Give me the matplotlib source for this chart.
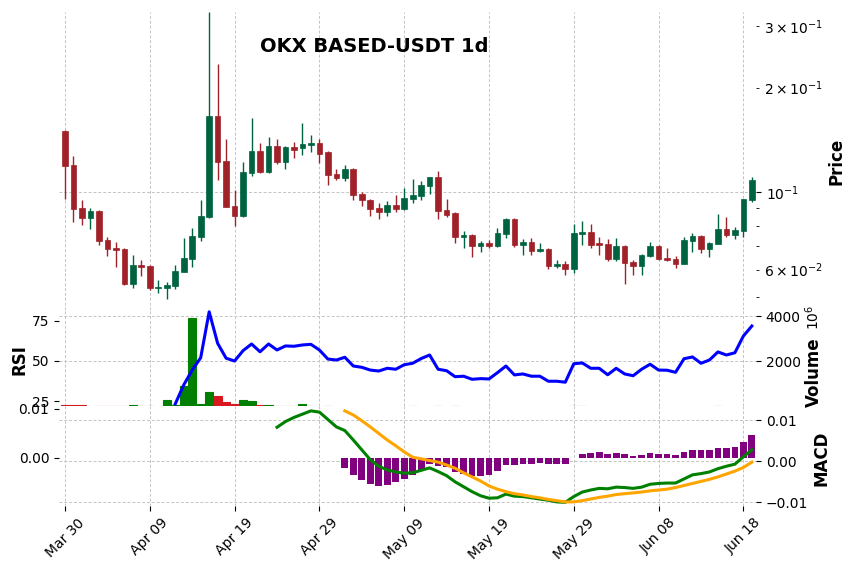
import matplotlib
matplotlib.use('Agg')
import matplotlib.pyplot as plt
import numpy as np
import pandas as pd

# daily candles
dates = pd.date_range('2024-03-30', periods=82, freq='D')

opens = [0.1505, 0.1195, 0.0900, 0.0844, 0.0882, 0.0729, 0.0691, 0.0687, 0.0546, 0.0618,
         0.0614, 0.0532, 0.0532, 0.0539, 0.0591, 0.0644, 0.0745, 0.0850, 0.1662, 0.1227,
         0.0912, 0.0855, 0.1136, 0.1311, 0.1141, 0.1355, 0.1219, 0.1346, 0.1339, 0.1364,
         0.1391, 0.1302, 0.1126, 0.1097, 0.1164, 0.0987, 0.0949, 0.0900, 0.0878, 0.0918,
         0.0894, 0.0955, 0.0976, 0.1042, 0.1104, 0.0888, 0.0871, 0.0745, 0.0753, 0.0702,
         0.0714, 0.0702, 0.0760, 0.0839, 0.0706, 0.0719, 0.0679, 0.0687, 0.0615, 0.0623,
         0.0603, 0.0760, 0.0768, 0.0714, 0.0710, 0.0644, 0.0700, 0.0630, 0.0615, 0.0657,
         0.0700, 0.0647, 0.0643, 0.0622, 0.0725, 0.0748, 0.0688, 0.0711, 0.0783, 0.0753,
         0.0775, 0.0950]
highs = [0.1510, 0.1276, 0.0949, 0.0904, 0.0888, 0.0745, 0.0722, 0.0690, 0.0659, 0.0641,
         0.0619, 0.0558, 0.0551, 0.0617, 0.0737, 0.0792, 0.0953, 0.3300, 0.2338, 0.1425,
         0.1013, 0.1219, 0.1637, 0.1388, 0.1447, 0.1425, 0.1361, 0.1397, 0.1584, 0.1463,
         0.1421, 0.1317, 0.1169, 0.1201, 0.1174, 0.1002, 0.0955, 0.0932, 0.0942, 0.0985,
         0.1032, 0.1095, 0.1075, 0.1109, 0.1154, 0.0955, 0.0876, 0.0775, 0.0757, 0.0725,
         0.0730, 0.0792, 0.0846, 0.0844, 0.0732, 0.0738, 0.0713, 0.0690, 0.0638, 0.0634,
         0.0811, 0.0830, 0.0813, 0.0743, 0.0732, 0.0737, 0.0704, 0.0641, 0.0666, 0.0722,
         0.0704, 0.0691, 0.0657, 0.0743, 0.0762, 0.0752, 0.0722, 0.0869, 0.0852, 0.0797,
         0.0957, 0.1104]
lows = [0.0955, 0.0820, 0.0808, 0.0787, 0.0704, 0.0655, 0.0610, 0.0540, 0.0530, 0.0573,
        0.0525, 0.0512, 0.0493, 0.0526, 0.0591, 0.0609, 0.0727, 0.0844, 0.1087, 0.0906,
        0.0800, 0.0850, 0.1117, 0.1136, 0.1136, 0.1205, 0.1166, 0.1257, 0.1282, 0.1305,
        0.1211, 0.1052, 0.1085, 0.1077, 0.0950, 0.0916, 0.0855, 0.0839, 0.0855, 0.0878,
        0.0892, 0.0934, 0.0950, 0.0989, 0.0841, 0.0852, 0.0713, 0.0690, 0.0650, 0.0672,
        0.0691, 0.0697, 0.0737, 0.0697, 0.0659, 0.0661, 0.0675, 0.0603, 0.0605, 0.0578,
        0.0586, 0.0704, 0.0690, 0.0659, 0.0633, 0.0633, 0.0547, 0.0577, 0.0577, 0.0653,
        0.0638, 0.0634, 0.0607, 0.0621, 0.0675, 0.0670, 0.0650, 0.0710, 0.0742, 0.0732,
        0.0742, 0.0938]
closes = [0.1190, 0.0896, 0.0844, 0.0882, 0.0725, 0.0688, 0.0683, 0.0546, 0.0618, 0.0611,
          0.0532, 0.0534, 0.0541, 0.0594, 0.0647, 0.0748, 0.0854, 0.1662, 0.1221, 0.0908,
          0.0855, 0.1141, 0.1311, 0.1141, 0.1355, 0.1219, 0.1346, 0.1328, 0.1373, 0.1391,
          0.1293, 0.1119, 0.1097, 0.1164, 0.0980, 0.0949, 0.0894, 0.0878, 0.0918, 0.0896,
          0.0961, 0.0980, 0.1047, 0.1104, 0.0884, 0.0859, 0.0745, 0.0755, 0.0702, 0.0714,
          0.0700, 0.0763, 0.0839, 0.0706, 0.0719, 0.0679, 0.0687, 0.0615, 0.0623, 0.0603,
          0.0763, 0.0768, 0.0706, 0.0705, 0.0644, 0.0700, 0.0627, 0.0615, 0.0661, 0.0700,
          0.0643, 0.0638, 0.0623, 0.0730, 0.0748, 0.0688, 0.0713, 0.0783, 0.0755, 0.0778,
          0.0955, 0.1082]

# volume in millions
volume_m = [60, 50, 40, 0, 20, 20, 20, 20, 45, 20, 20, 0, 270, 30, 900, 3900,
            75, 620, 440, 180, 100, 280, 235, 60, 60, 20, 20, 20, 100, 20, 0, 20,
            0, 0, 0, 0, 0, 0, 0, 0, 0, 20, 0, 0, 20, 0, 20,
            0, 0, 0, 0, 0, 0, 0, 0, 0, 0, 0, 0, 0, 20, 20,
            0, 0, 0, 0, 0, 0, 0, 0, 0, 0, 0, 0, 0, 0, 0, 20, 0, 0, 0, 0]

rsi = [np.nan] * 13 + [
    23.5, 35.2, 44.4, 52.0, 80.4, 60.9, 51.7, 50.0,
    56.4, 60.5, 55.7, 60.5, 56.8, 59.3, 59.1, 59.9, 60.3, 56.8,
    51.2, 50.6, 52.3, 46.9, 46.1, 44.4, 43.8, 45.5, 44.9, 47.7,
    48.6, 51.5, 53.7, 44.9, 44.0, 40.3, 40.6, 38.7, 39.1, 38.9,
    42.8, 46.9, 41.4, 42.0, 40.6, 40.6, 37.5, 37.5, 36.9, 48.3,
    48.8, 45.5, 45.5, 41.5, 45.5, 42.0, 40.9, 44.9, 48.0, 44.4,
    44.3, 43.0, 51.4, 52.5, 48.6, 50.6, 55.6, 53.7, 55.1, 65.4, 71.6]

macd = [np.nan] * 25 + [
    0.0083, 0.0097, 0.0107, 0.0115, 0.0123, 0.0120, 0.0102, 0.0084, 0.0075, 0.0052,
    0.0028, 0.0004, -0.0012, -0.0021, -0.0026, -0.0029, -0.0028, -0.0022, -0.0016, -0.0025,
    -0.0035, -0.0050, -0.0062, -0.0074, -0.0084, -0.0090, -0.0089, -0.0080, -0.0085, -0.0086,
    -0.0089, -0.0092, -0.0095, -0.0099, -0.0100, -0.0086, -0.0075, -0.0070, -0.0066, -0.0067,
    -0.0063, -0.0064, -0.0066, -0.0063, -0.0056, -0.0054, -0.0053, -0.0053, -0.0043, -0.0033,
    -0.0030, -0.0026, -0.0018, -0.0012, -0.0007, 0.0011, 0.0028]

signal = [np.nan] * 33 + [
    0.0123, 0.0113, 0.0099, 0.0084, 0.0068, 0.0052, 0.0038, 0.0023, 0.0010, 0.0006,
    0.0002, -0.0002, -0.0009, -0.0017, -0.0028, -0.0038, -0.0048, -0.0060, -0.0068, -0.0074,
    -0.0079, -0.0082, -0.0086, -0.0089, -0.0093, -0.0096, -0.0099, -0.0099, -0.0096, -0.0092,
    -0.0088, -0.0085, -0.0081, -0.0079, -0.0077, -0.0075, -0.0072, -0.0070, -0.0068, -0.0064,
    -0.0059, -0.0054, -0.0049, -0.0044, -0.0038, -0.0031, -0.0024, -0.0015, -0.0002]

hist = [np.nan] * 33 + [
    -0.0020, -0.0035, -0.0045, -0.0053, -0.0057, -0.0055, -0.0050, -0.0043, -0.0035, -0.0024,
    -0.0012, -0.0017, -0.0019, -0.0029, -0.0033, -0.0036, -0.0036, -0.0035, -0.0026, -0.0014,
    -0.0014, -0.0012, -0.0012, -0.0010, -0.0012, -0.0012, -0.0012, 0.0, 0.0008, 0.0010,
    0.0012, 0.0008, 0.0010, 0.0008, 0.0005, 0.0006, 0.0010, 0.0008, 0.0008, 0.0006,
    0.0012, 0.0016, 0.0016, 0.0016, 0.0020, 0.0020, 0.0022, 0.0033, 0.0047]

x = np.arange(len(dates))
o = np.array(opens)
c = np.array(closes)
up = c >= o
candle_col = np.where(up, '#006340', '#A02128')
vol_col = np.where(up, '#007f00', '#d7191f')

grid_kw = dict(color='#c4c4c4', linestyle=(0, (3, 2)), linewidth=0.7)


def clean(ax):
    for s in ax.spines.values():
        s.set_visible(False)
    ax.tick_params(labelsize=10)


fig = plt.figure(figsize=(8.55, 5.72), dpi=100)
L, W = 59 / 855, 697 / 855
ax_p = fig.add_axes([L, 1 - 310 / 572, W, 298 / 572])
ax_v = fig.add_axes([L, 1 - 406 / 572, W, 96 / 572])
ax_m = fig.add_axes([L, 1 - 506 / 572, W, 100 / 572])

# twins first: twinx() moves the parent's ticks to the left
ax_r = ax_v.twinx()
ax_h = ax_m.twinx()
ax_l = ax_m.twinx()

xt = x[::10]
for ax in (ax_p, ax_v, ax_m):
    clean(ax)
    ax.set_xlim(-0.71, 81.49)
    ax.set_xticks(xt)
    ax.grid(True, which='major', **grid_kw)
    ax.set_axisbelow(True)
for ax in (ax_r, ax_h, ax_l):
    clean(ax)
for ax in (ax_p, ax_v):
    ax.tick_params(axis='x', length=0, labelbottom=False)

# price candles
ax_p.vlines(x, lows, highs, colors=candle_col, linewidth=1.0)
ax_p.bar(x, np.abs(c - o), bottom=np.minimum(o, c), width=0.67,
         color=candle_col, edgecolor=candle_col, linewidth=0.5)
ax_p.set_yscale('log')
ax_p.set_ylim(0.0459, 0.330)
ax_p.yaxis.tick_right()

# volume + rsi
vol = np.array(volume_m, dtype=float)
m = vol > 0
ax_v.bar(x[m], vol[m], width=0.95, color=vol_col[m], edgecolor=vol_col[m], linewidth=0.8)
ax_v.set_ylim(0, 4270)
ax_v.yaxis.tick_right()
ax_v.set_yticks([2000, 4000])

ax_r.plot(x, rsi, color='blue', linewidth=2.2)
ax_r.set_ylim(22.2, 81.5)
ax_r.yaxis.tick_left()
ax_r.set_yticks([25, 50, 75])

# macd
ax_m.set_ylim(-0.0109, 0.01349)
ax_m.yaxis.tick_right()
ax_m.set_yticks([-0.01, 0.0, 0.01])
ax_m.set_yticklabels(['\u22120.01', '0.00', '0.01'])
ax_m.set_xticklabels(dates[::10].strftime('%b %d'), rotation=45)

ax_h.bar(x, hist, width=0.79, color='purple')
ax_h.set_ylim(-0.0098, 0.01061)
ax_h.yaxis.tick_left()
ax_h.set_yticks([0.0, 0.01])
ax_h.set_yticklabels(['0.00', '0.01'])

ax_l.plot(x, macd, color='green', linewidth=2.2)
ax_l.plot(x, signal, color='orange', linewidth=2.2)
ax_l.set_ylim(ax_m.get_ylim())
ax_l.set_yticks([])

# labels
fig.text(374 / 855, 1 - 46 / 572, 'OKX BASED-USDT 1d', fontsize=14, fontweight='bold',
         ha='center', va='center')
fig.text(836 / 855, 1 - 161 / 572, 'Price', fontsize=12, fontweight='bold',
         rotation=90, ha='center', va='center')
fig.text(814 / 855, 1 - 372 / 572, 'Volume', fontsize=12, fontweight='bold',
         rotation=90, ha='center', va='center')
fig.text(813 / 855, 1 - 317 / 572, '$10^{6}$', fontsize=10,
         rotation=90, ha='center', va='center')
fig.text(821 / 855, 1 - 458 / 572, 'MACD', fontsize=12, fontweight='bold',
         rotation=90, ha='center', va='center')
fig.text(19 / 855, 1 - 360 / 572, 'RSI', fontsize=12, fontweight='bold',
         rotation=90, ha='center', va='center')

fig.savefig('out.png', dpi=100)
